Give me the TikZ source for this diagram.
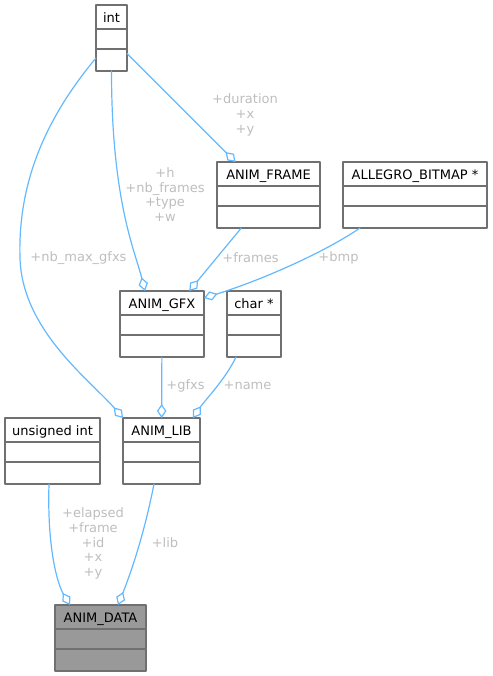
\documentclass[tikz,border=0pt]{standalone}
\usepackage{fontspec}
\setmainfont{DejaVu Sans}
\usepackage{tikz}
\usetikzlibrary{arrows.meta,calc}
\definecolor{boxgray}{HTML}{707070}
\definecolor{datagray}{HTML}{999999}
\definecolor{linkblue}{HTML}{63B8FF}
\definecolor{labelgray}{HTML}{BEBEBE}
\tikzset{
    every picture/.style={line cap=round,line join=round},
    classbox/.style={draw=boxgray,line width=1.15pt,minimum height=66pt,
      inner sep=0pt,outer sep=0pt,anchor=north west},
    classname/.style={font=\fontsize{13}{15}\selectfont,text=black,
      inner sep=0pt,anchor=base},
    member/.style={draw=linkblue,line width=1.2pt,
      -{Diamond[open,length=14pt,width=9.5pt]}},
    memberlabel/.style={text=labelgray,font=\fontsize{13}{14.7}\selectfont,
      align=center,inner sep=0pt}
}
\begin{document}
\begin{tikzpicture}[x=1pt,y=-1pt]
  \useasboundingbox (0,0) rectangle (492,676);
  % class boxes: name / left / top / width / title / fill
  \foreach \id/\x/\y/\w/\title/\bg in {
      int/96/5/31/int/white,
      frame/217/162/103/ANIM\_FRAME/white,
      bitmap/343/162/144/ALLEGRO\_BITMAP */white,
      gfx/120/291/84/ANIM\_GFX/white,
      char/227/291/54/char */white,
      uint/5/418/95/unsigned int/white,
      lib/123/418/77/ANIM\_LIB/white,
      data/55/605/91/ANIM\_DATA/datagray}{
    \node[classbox,fill=\bg,minimum width=\w pt] (\id) at (\x,\y) {};
    \node[classname] (\id-title) at ($(\id.north)+(0,17.5)$) {\title};
    \draw[boxgray,line width=1.15pt]
      ($(\id.north west)+(0,24)$) -- ($(\id.north east)+(0,24)$)
      ($(\id.north west)+(0,44)$) -- ($(\id.north east)+(0,44)$);
  }

  % members
  \draw[member] (int) -- (frame);
  \draw[member] (int.south) .. controls ($(int.south)+(0,130)$)
    and ($(gfx.north west)+(15,-40)$) .. ($(gfx.north west)+(25,0)$);
  \draw[member] ($(int.west)+(0,20)$) .. controls (40,125) and (18,190) .. (20,258)
    .. controls (22,330) and (90,380) .. (lib.north west);
  \draw[member] (frame) -- (gfx);
  \draw[member] ($(bitmap.south west)+(17,0)$) .. controls (325,252)
    and (262,280) .. ($(gfx.north east)+(0,7)$);
  \draw[member] (gfx) -- (lib);
  \draw[member] ($(char.south west)+(9,0)$) .. controls (225,380)
    and (205,400) .. ($(lib.north east)+(-7,0)$);
  \draw[member] ($(uint.south west)+(44,0)$) .. controls (47,550)
    and (58,585) .. ($(data.north west)+(15,0)$);
  \draw[member] ($(lib.south west)+(31,0)$) .. controls (142,545)
    and (126,585) .. ($(data.north west)+(63,0)$);

  % member names
  \node[memberlabel] (l-frame) at (245,115) {+duration\\+x\\+y};
  \node[memberlabel] (l-gfx) at (165,194.5) {+h\\+nb\_frames\\+type\\+w};
  \node[memberlabel] (l-max) at (78.5,258) {+nb\_max\_gfxs};
  \node[memberlabel] (l-frames) at (250.5,258) {+frames};
  \node[memberlabel] (l-bmp) at (338.5,258) {+bmp};
  \node[memberlabel] (l-gfxs) at (185.5,386) {+gfxs};
  \node[memberlabel] (l-name) at (247.5,386) {+name};
  \node[memberlabel] (l-uint) at (93,543.5) {+elapsed\\+frame\\+id\\+x\\+y};
  \node[memberlabel] (l-lib) at (165,543) {+lib};
\end{tikzpicture}
\end{document}
